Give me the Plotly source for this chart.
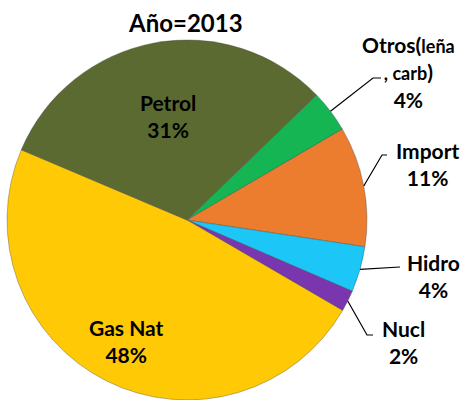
import math
import plotly.graph_objects as go

labels = ["Otros(leña , carb)", "Import", "Hidro", "Nucl", "Gas Nat", "Petrol"]
values = [3.8, 10.8, 4.1, 1.9, 48.0, 31.4]
colors = ["#14b552", "#ec7c2e", "#1cc6f6", "#7a36ae", "#ffc905", "#5b6a30"]
label_html = ["Otros(<span style='font-size:18px'>leña<br>, carb</span>)", "Import", "Hidro", "Nucl", "Gas Nat", "Petrol"]
title_text = "Año=2013"

W, H = 463, 400
CX, CY, R = 187, 220, 180
START = 46.0  # degrees clockwise from 12 o'clock

# outside label placement (pixel) for the small slices, radial factor for inside labels
outside = {
    0: dict(text=(408, 72), elbow=[(373, 78), (381, 78)]),
    1: dict(text=(427, 164), elbow=[(382, 155), (387, 155)]),
    2: dict(text=(433, 276), elbow=[(400, 267)]),
    3: dict(text=(403, 342), elbow=[(367, 335), (373, 335)]),
}
inside_r = {4: 0.75, 5: 0.59}

total = sum(values)
FONT = dict(family="Lato", size=21, color="black", weight="bold")

fig = go.Figure(go.Pie(
    labels=labels, values=values, sort=False, direction="clockwise",
    rotation=START,
    marker=dict(colors=colors, line=dict(color="rgba(60,60,60,0.35)", width=1)),
    textinfo="none",
    domain=dict(x=[(CX - R) / W, (CX + R) / W], y=[1 - (CY + R) / H, 1 - (CY - R) / H]),
    showlegend=False, hoverinfo="label+percent",
))

def px(x, y):
    return x / W, 1 - y / H

shapes, annots = [], []
cum = 0.0
for i, v in enumerate(values):
    mid = START + (cum + v / 2) / total * 360
    cum += v
    th = math.radians(mid)
    txt = f"{label_html[i]}<br>{round(v / total * 100)}%"
    if i in outside:
        sx, sy = CX + R * math.sin(th), CY - R * math.cos(th)
        pts = [(sx, sy)] + outside[i]["elbow"]
        path = "M " + " L ".join(f"{px(a, b)[0]},{px(a, b)[1]}" for a, b in pts)
        shapes.append(dict(type="path", path=path, xref="paper", yref="paper",
                           line=dict(color="black", width=1.2)))
        tx, ty = px(*outside[i]["text"])
    else:
        rr = R * inside_r[i]
        tx, ty = px(CX + rr * math.sin(th), CY - rr * math.cos(th))
    annots.append(dict(x=tx, y=ty, xref="paper", yref="paper", showarrow=False,
                       text=txt, font=FONT,
                       xanchor="center", yanchor="middle", align="center"))

tx, ty = px(185, 22)
annots.append(dict(x=tx, y=ty, xref="paper", yref="paper", showarrow=False, text=title_text,
                   font=dict(family="Lato", size=24, color="black", weight="bold"),
                   xanchor="center", yanchor="middle"))

fig.update_layout(width=W, height=H, autosize=False, margin=dict(l=0, r=0, t=0, b=0),
                  paper_bgcolor="white", plot_bgcolor="white",
                  shapes=shapes, annotations=annots)
fig.write_html("out.html", config={"displayModeBar": False},
               post_script="document.body.style.margin='0';document.body.style.overflow='hidden';")
